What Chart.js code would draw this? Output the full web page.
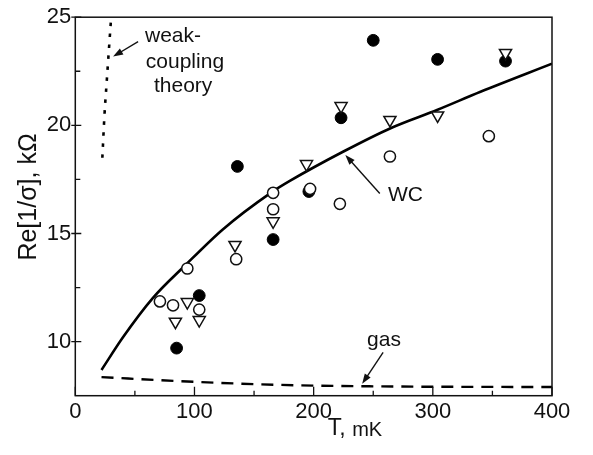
<!DOCTYPE html>
<html>
<head>
<meta charset="utf-8">
<script src="https://cdn.jsdelivr.net/npm/chart.js@4.4.1/dist/chart.umd.min.js"></script>
<style>
  html, body { margin: 0; padding: 0; background: #fff; }
  #wrap { width: 593px; height: 455px; }
</style>
</head>
<body>
<div id="wrap"><canvas id="chart" width="593" height="455"></canvas></div>
<script>
// Axis ticks
const xTicks = [0, 100, 200, 300, 400];
const xMinor = [50, 150, 250, 350];
const yTicks = [10, 15, 20, 25];
const yMinor = [12.5, 17.5, 22.5];

// Filled circles
const filledT = [85, 104, 136, 166, 196, 223, 250, 304, 361];
const filledR = [9.70, 12.13, 18.10, 14.72, 16.94, 20.35, 23.93, 23.05, 22.97];
// Open circles
const openT = [71, 82, 94, 104, 135, 166, 166, 197, 222, 264, 347];
const openR = [11.86, 11.68, 13.38, 11.48, 13.81, 16.88, 16.12, 17.06, 16.37, 18.56, 19.50];
// Open down-triangles
const triT = [84, 94, 104, 134, 166, 194, 223, 264, 304, 361];
const triR = [10.92, 11.83, 11.00, 14.47, 15.56, 18.21, 20.89, 20.25, 20.46, 23.35];

// WC curve
const wcT = [22, 40, 65, 91, 124, 164, 180, 225, 265, 304, 340, 400];
const wcR = [8.69, 10.2, 12.01, 13.46, 15.2, 16.88, 17.43, 18.79, 19.88, 20.72, 21.55, 22.85];
// gas curve
const gasT = [22, 88, 172, 256, 400];
const gasR = [8.36, 8.17, 8.0, 7.93, 7.9];
// weak-coupling theory
const wkT = [22.7, 24.5, 26.4, 28.2, 29.9];
const wkR = [18.5, 20.5, 22.05, 23.5, 24.85];

const pts = (xs, ys) => xs.map((x, i) => ({x: x, y: ys[i]}));
const FONT = '"Liberation Sans", Arial, Helvetica, sans-serif';

// Ticks, frame, axis titles and the text labels with arrows.
const decorPlugin = {
    id: 'decor',
    afterDatasetsDraw(chart) {
        const c = chart.ctx, a = chart.chartArea;
        const xs = chart.scales.x, ys = chart.scales.y;
        c.save();
        c.strokeStyle = '#111';
        c.lineWidth = 1.5;
        c.strokeRect(a.left, a.top, a.right - a.left, a.bottom - a.top);
        c.lineWidth = 1.3;
        c.beginPath();
        xTicks.forEach(v => { const p = xs.getPixelForValue(v); c.moveTo(p, a.bottom); c.lineTo(p, a.bottom - 9); });
        xMinor.forEach(v => { const p = xs.getPixelForValue(v); c.moveTo(p, a.bottom); c.lineTo(p, a.bottom - 5); });
        yTicks.forEach(v => { const p = ys.getPixelForValue(v); c.moveTo(a.left - 4, p); c.lineTo(a.left + 6, p); });
        yMinor.forEach(v => { const p = ys.getPixelForValue(v); c.moveTo(a.left, p); c.lineTo(a.left + 5, p); });
        c.stroke();

        const px = v => xs.getPixelForValue(v), py = v => ys.getPixelForValue(v);
        c.fillStyle = '#111';
        c.textAlign = 'center';
        c.textBaseline = 'middle';
        c.font = '21px ' + FONT;
        c.fillText('weak-', px(82), py(24.1));
        c.fillText('coupling', px(92), py(22.9));
        c.fillText('theory', px(90.5), py(21.8));
        c.fillText('WC', px(277), py(16.76));
        c.fillText('gas', px(259), py(10.06));

        const arrow = (x1, y1, x2, y2) => {
            const X1 = px(x1), Y1 = py(y1), X2 = px(x2), Y2 = py(y2);
            const ang = Math.atan2(Y2 - Y1, X2 - X1);
            c.lineWidth = 1.4;
            c.beginPath(); c.moveTo(X1, Y1); c.lineTo(X2 - 6 * Math.cos(ang), Y2 - 6 * Math.sin(ang)); c.stroke();
            c.beginPath();
            c.moveTo(X2, Y2);
            c.lineTo(X2 - 10 * Math.cos(ang) + 3.5 * Math.sin(ang), Y2 - 10 * Math.sin(ang) - 3.5 * Math.cos(ang));
            c.lineTo(X2 - 10 * Math.cos(ang) - 3.5 * Math.sin(ang), Y2 - 10 * Math.sin(ang) + 3.5 * Math.cos(ang));
            c.closePath(); c.fill();
        };
        arrow(52.7, 23.87, 31.7, 23.18);
        arrow(255.5, 16.85, 226.6, 18.63);
        arrow(258.3, 9.5, 240.7, 8.05);

        // axis titles
        c.font = '23px ' + FONT;
        c.textAlign = 'left';
        const t1 = 'T, ', t2 = 'mK';
        const w1 = c.measureText(t1).width;
        c.font = '20px ' + FONT;
        const w2 = c.measureText(t2).width;
        const x0 = 355 - (w1 + w2) / 2;
        c.font = '23px ' + FONT;
        c.fillText(t1, x0, 429);
        c.font = '20px ' + FONT;
        c.fillText(t2, x0 + w1, 430);

        c.translate(29, 197);
        c.rotate(-Math.PI / 2);
        c.textAlign = 'center';
        c.font = '25px ' + FONT;
        c.fillText('Re[1/σ], kΩ', 0, 0);
        c.restore();
    }
};

const ctx = document.getElementById('chart').getContext('2d');
new Chart(ctx, {
    type: 'scatter',
    data: {
        datasets: [
            { label: 'open', data: pts(openT, openR), order: 1, pointStyle: 'circle',
              pointRadius: 5.6, borderWidth: 1.5, borderColor: '#111', backgroundColor: '#fff' },
            { label: 'tri', data: pts(triT, triR), order: 2, pointStyle: 'triangle', rotation: 180,
              pointRadius: 7, borderWidth: 1.5, borderColor: '#111', backgroundColor: '#fff' },
            { label: 'filled', data: pts(filledT, filledR), order: 3, pointStyle: 'circle',
              pointRadius: 5.9, borderWidth: 1, borderColor: '#000', backgroundColor: '#000' },
            { label: 'WC', data: pts(wcT, wcR), order: 4, showLine: true, pointRadius: 0,
              borderColor: '#000', borderWidth: 2.6, cubicInterpolationMode: 'monotone' },
            { label: 'gas', data: pts(gasT, gasR), order: 5, showLine: true, pointRadius: 0,
              borderColor: '#000', borderWidth: 2.4, borderDash: [12, 8], cubicInterpolationMode: 'monotone' },
            { label: 'weak', data: pts(wkT, wkR), order: 6, showLine: true, pointRadius: 0,
              borderColor: '#000', borderWidth: 2.6, borderDash: [3.5, 7.5], cubicInterpolationMode: 'monotone' }
        ]
    },
    options: {
        responsive: false,
        animation: false,
        layout: { padding: { top: 12, right: 41, left: 0, bottom: 0 } },
        plugins: { legend: { display: false }, tooltip: { enabled: false } },
        scales: {
            x: {
                type: 'linear', min: 0, max: 400,
                grid: { display: false, drawTicks: false },
                border: { display: false },
                afterBuildTicks: s => { s.ticks = xTicks.map(v => ({value: v})); },
                afterFit: s => { s.height = 59.3; },
                ticks: { padding: 3, color: '#111', font: { family: FONT, size: 22 } }
            },
            y: {
                type: 'linear', min: 7.5, max: 25,
                grid: { display: false, drawTicks: false },
                border: { display: false },
                afterBuildTicks: s => { s.ticks = yTicks.map(v => ({value: v})); },
                afterFit: s => { s.width = 75.3; },
                ticks: { padding: 4, color: '#111', font: { family: FONT, size: 22 } }
            }
        }
    },
    plugins: [decorPlugin]
});
</script>
</body>
</html>
